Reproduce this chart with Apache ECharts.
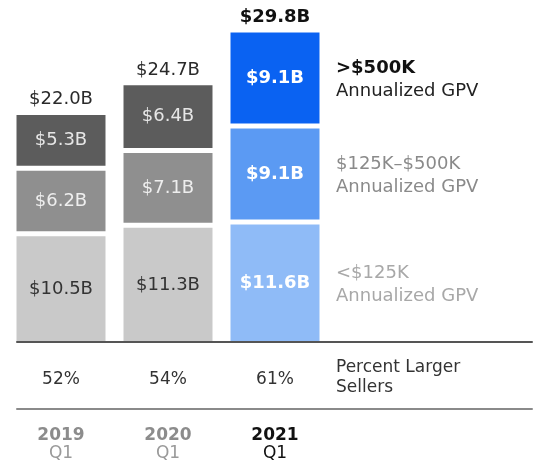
<!DOCTYPE html>
<html>
<head>
<meta charset="utf-8">
<script src="https://cdn.jsdelivr.net/npm/echarts@6/dist/echarts.min.js"></script>
<style>
    html, body { margin: 0; padding: 0; background: #fff; }
    #main { width: 538px; height: 468px; }
</style>
</head>
<body>
<div id="main"></div>
<script>
// data (billions of $)
var years = ['2019', '2020', '2021'];
var quarters = ['Q1', 'Q1', 'Q1'];
var smallSellers = [10.5, 11.3, 11.6];   // <$125K
var midSellers = [6.2, 7.1, 9.1];        // $125K-$500K
var largeSellers = [5.3, 6.4, 9.1];      // >$500K
var totals = [22.0, 24.7, 29.8];
var pctLarger = ['52%', '54%', '61%'];
var tierNames = [
    ['<$125K', 'Annualized GPV'],
    ['$125K–$500K', 'Annualized GPV'],
    ['>$500K', 'Annualized GPV']
];

var FONT = 'DejaVu Sans';

function segment(name, values, colors, labelColors) {
    return {
        name: name,
        type: 'bar',
        stack: 'gpv',
        barWidth: 94,
        clip: false,
        data: values.map(function (v, i) {
            return {
                value: v,
                itemStyle: { color: colors[i] },
                label: { color: labelColors[i], fontWeight: i === 2 ? 'bold' : 'normal' }
            };
        }),
        // white border makes the gaps between stacked blocks
        itemStyle: { borderColor: '#fff', borderWidth: 2.5 },
        label: {
            show: true,
            position: 'inside',
            fontFamily: FONT,
            fontSize: 18,
            formatter: function (p) {
                return '$' + p.value.toFixed(1) + 'B';
            }
        }
    };
}

var chart = echarts.init(document.getElementById('main'));

// the table rules span wider than the bars, so they live on a second grid
var ruleAxis = {
    type: 'value',
    gridIndex: 1,
    min: -0.411,
    max: 4.402,
    position: 'bottom',
    splitLine: { show: false },
    axisTick: { show: false }
};

var option = {
    animation: false,
    grid: [
        { left: 7.5, right: 209.5, top: 28, bottom: 123.5 },
        { left: 17, right: 6, top: 30, bottom: 126 }
    ],
    xAxis: [
        { type: 'category', gridIndex: 0, data: years, show: false },
        Object.assign({}, ruleAxis, {
            z: 5,
            axisLine: { onZero: false, lineStyle: { color: '#555', width: 2 } },
            axisLabel: {
                customValues: [0, 1, 2],
                margin: 28,
                verticalAlign: 'top',
                formatter: function (v) {
                    var i = Math.round(v);
                    var last = i === 2;
                    return '{p|' + pctLarger[i] + '}\n{s| }\n{' + (last ? 'yb' : 'y') + '|' + years[i] + '}\n{' +
                        (last ? 'qb' : 'q') + '|' + quarters[i] + '}';
                },
                rich: {
                    p: { fontFamily: FONT, fontSize: 17, color: '#333', lineHeight: 20 },
                    s: { fontSize: 4, lineHeight: 37 },
                    y: { fontFamily: FONT, fontSize: 17, fontWeight: 'bold', color: '#8c8c8c', lineHeight: 18 },
                    yb: { fontFamily: FONT, fontSize: 17, fontWeight: 'bold', color: '#111', lineHeight: 18 },
                    q: { fontFamily: FONT, fontSize: 17, color: '#9a9a9a', lineHeight: 17 },
                    qb: { fontFamily: FONT, fontSize: 17, color: '#111', lineHeight: 17 }
                }
            }
        }),
        Object.assign({}, ruleAxis, {
            offset: 67,
            axisLine: { onZero: false, lineStyle: { color: '#8a8a8a', width: 2 } },
            axisLabel: { show: false }
        })
    ],
    yAxis: [
        { type: 'value', gridIndex: 0, min: 0, max: 30, show: false },
        { type: 'value', gridIndex: 1, min: 0, max: 30, show: false }
    ],
    series: [
        segment('<$125K', smallSellers, ['#c9c9c9', '#c9c9c9', '#8fbbf7'], ['#333', '#333', '#fff']),
        segment('$125K-$500K', midSellers, ['#8f8f8f', '#8f8f8f', '#5b9af3'], ['#eee', '#eee', '#fff']),
        segment('>$500K', largeSellers, ['#5c5c5c', '#5c5c5c', '#0a62f2'], ['#e6e6e6', '#e6e6e6', '#fff']),
        {
            name: 'total',
            type: 'bar',
            stack: 'gpv',
            barWidth: 94,
            data: totals.map(function () { return 0; }),
            itemStyle: { color: 'transparent', borderWidth: 0 },
            label: {
                show: true,
                position: 'top',
                distance: 4,
                formatter: function (p) {
                    var i = p.dataIndex;
                    return '{' + (i === 2 ? 'b' : 'n') + '|$' + totals[i].toFixed(1) + 'B}';
                },
                rich: {
                    n: { fontFamily: FONT, fontSize: 18, color: '#2a2a2a' },
                    b: { fontFamily: FONT, fontSize: 18, fontWeight: 'bold', color: '#111' }
                }
            }
        }
    ]
};

chart.setOption(option);

// right-hand column text, placed next to the 2021 bar
var finder = { seriesIndex: 0 };
var textX = chart.convertToPixel(finder, [2, 0])[0] + 47 + 14;
var baseY = chart.convertToPixel({ xAxisIndex: 1, yAxisIndex: 1 }, [0, 0])[1];
var tierStacks = [smallSellers[2], midSellers[2], largeSellers[2]];
var tierStyles = [
    { head: '#a8a8a8', sub: '#a8a8a8', weight: 'normal' },
    { head: '#8a8a8a', sub: '#8a8a8a', weight: 'normal' },
    { head: '#111', sub: '#222', weight: 'bold' }
];
var graphics = [];
var acc = 0;
tierStacks.forEach(function (v, k) {
    var midY = chart.convertToPixel(finder, [2, acc + v / 2])[1] + 1.5;
    acc += v;
    graphics.push({
        type: 'text', x: textX, y: midY - 11.5,
        style: { text: tierNames[k][0], fill: tierStyles[k].head, fontFamily: FONT, fontSize: 18,
            fontWeight: tierStyles[k].weight, align: 'left', verticalAlign: 'middle' }
    });
    graphics.push({
        type: 'text', x: textX, y: midY + 11.5,
        style: { text: tierNames[k][1], fill: tierStyles[k].sub, fontFamily: FONT, fontSize: 18,
            align: 'left', verticalAlign: 'middle' }
    });
});
graphics.push({
    type: 'text', x: textX, y: baseY + 26,
    style: { text: 'Percent Larger', fill: '#333', fontFamily: FONT, fontSize: 17, align: 'left', verticalAlign: 'middle' }
});
graphics.push({
    type: 'text', x: textX, y: baseY + 46,
    style: { text: 'Sellers', fill: '#333', fontFamily: FONT, fontSize: 17, align: 'left', verticalAlign: 'middle' }
});
chart.setOption({ graphic: graphics });
</script>
</body>
</html>
